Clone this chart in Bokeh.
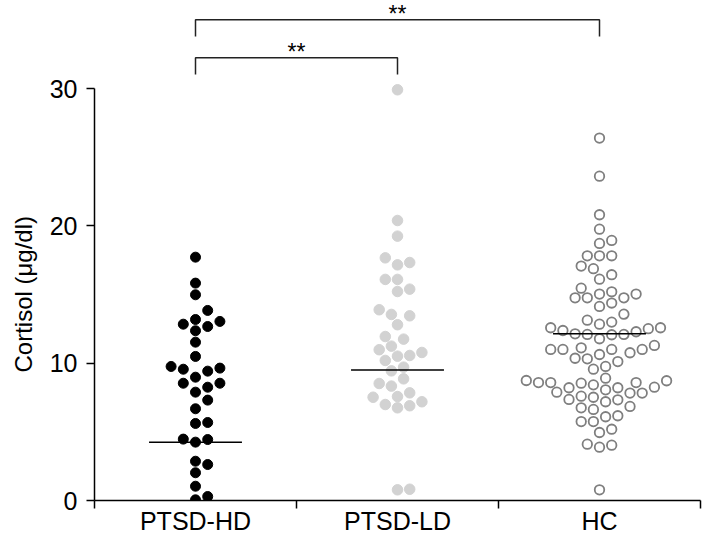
import numpy as np
from bokeh.plotting import figure
from bokeh.models import Range1d, FixedTicker, ColumnDataSource, Title
from bokeh.embed import file_html
from bokeh.resources import INLINE
from bokeh.core.properties import value

categories = ["PTSD-HD", "PTSD-LD", "HC"]

hd_values = [17.72, 15.83, 14.98, 13.84, 13.18, 13.04, 12.84, 12.67, 12.36, 11.53,
             10.49, 9.76, 9.64, 9.56, 9.42, 8.98, 8.54, 8.54, 8.25, 7.89,
             7.31, 6.68, 5.68, 5.61, 4.47, 4.44, 4.25, 2.86, 2.62, 2.02,
             1.04, 0.29, 0.05]
ld_values = [29.91, 20.39, 19.25, 17.67, 17.33, 17.16, 16.10, 16.10, 15.39, 15.22,
             13.89, 13.55, 13.45, 12.80, 11.94, 11.75, 11.24, 10.98, 10.78, 10.56,
             10.51, 10.20, 9.71, 9.44, 8.86, 8.52, 8.33, 7.84, 7.57, 7.52,
             7.19, 6.99, 6.90, 6.75, 0.82, 0.78]
hc_values = [26.39, 23.62, 20.81, 19.76, 18.94, 18.72, 17.82, 17.82, 17.82, 17.07,
             16.88, 16.44, 16.12, 15.46, 15.20, 15.03, 15.03, 14.76, 14.76, 14.76,
             14.38, 14.13, 13.57, 13.13, 12.99, 12.84, 12.58, 12.58, 12.51, 12.38,
             12.29, 12.14, 12.09, 12.09, 12.07, 11.78, 11.29, 11.12, 11.00, 11.00,
             11.00, 11.00, 10.76, 10.63, 10.36, 10.32, 10.12, 9.76, 9.56, 8.91,
             8.74, 8.72, 8.59, 8.59, 8.59, 8.54, 8.42, 8.25, 8.21, 8.21,
             8.06, 7.89, 7.82, 7.82, 7.60, 7.52, 7.36, 7.33, 7.19, 6.85,
             6.75, 6.63, 6.17, 6.10, 5.75, 5.75, 5.19, 4.95, 4.10, 4.03,
             3.88, 0.78]
center_lines = [4.25, 9.51, 12.14]
y_ticks = [0, 10, 20, 30]
y_title = "Cortisol (μg/dl)"

# significance brackets
bracket_pairs = [(0, 1), (0, 2)]
bracket_tops = [32.24, 35.0]
bracket_bottoms = [31.02, 33.78]
bracket_labels = ["**", "**"]

FONT = "Liberation Sans"
W, H = 703, 538
ML, MR, MB = 94, 3, 38
FRAME_W = W - ML - MR
FRAME_H = H - MB
PX_PER_Y = 500 / 36.41
Y_END = FRAME_H / PX_PER_Y
PX_PER_X = FRAME_W / 3.0


def swarm(vals, step=6.1, dmin=11.2):
    vals = np.asarray(vals, dtype=float)
    order = np.argsort(vals, kind="stable")
    placed = []
    offs = np.zeros(len(vals))
    cands = [0]
    for k in range(1, 40):
        cands += [k, -k]
    for i in order:
        y = vals[i] * PX_PER_Y
        for k in cands:
            x = k * step
            ok = True
            for px, py in placed:
                if (x - px) ** 2 + (y - py) ** 2 < dmin ** 2:
                    ok = False
                    break
            if ok:
                break
        placed.append((x, y))
        offs[i] = x
    return offs / PX_PER_X


p = figure(width=W, height=H, output_backend="svg", toolbar_location=None,
           x_range=Range1d(0, 3), y_range=Range1d(0, Y_END),
           min_border_left=ML, min_border_right=MR, min_border_top=0,
           min_border_bottom=MB)
p.outline_line_color = None
p.xgrid.visible = False
p.ygrid.visible = False
p.background_fill_color = "white"
p.border_fill_color = "white"

groups = [hd_values, ld_values, hc_values]
for gi, vals in enumerate(groups):
    xs = gi + 0.5 + swarm(vals)
    src = ColumnDataSource(dict(x=xs, y=vals))
    if gi == 0:
        p.scatter("x", "y", source=src, size=10, fill_color="black", line_color="black")
    elif gi == 1:
        p.scatter("x", "y", source=src, size=10.5, fill_color="#d2d2d2", line_color="#d2d2d2")
    else:
        p.scatter("x", "y", source=src, size=9.5, fill_color="white", line_color="#7f7f7f",
                  line_width=1.8)

# center lines
cx = [i + 0.5 for i in range(3)]
p.segment(x0=[c - 0.23 for c in cx], x1=[c + 0.23 for c in cx],
          y0=center_lines, y1=center_lines, line_color="black", line_width=1.5)

# brackets
bxs, bys, tx, ty = [], [], [], []
for (a, b), top, bot in zip(bracket_pairs, bracket_tops, bracket_bottoms):
    xa, xb = a + 0.5, b + 0.5
    bxs.append([xa, xa, xb, xb])
    bys.append([bot, top, top, bot])
    tx.append((xa + xb) / 2)
    ty.append(top + 1.38)
p.multi_line(bxs, bys, line_color="#222222", line_width=1.5)
p.text(x=tx, y=ty, text=bracket_labels, text_align="center", text_baseline="top",
       text_font=value(FONT), text_font_size="23px", text_color="black")

# x axis
xa = p.xaxis[0]
xa.ticker = FixedTicker(ticks=[0.5, 1.5, 2.5], minor_ticks=[0, 1, 2, 3])
xa.major_label_overrides = {0.5: categories[0], 1.5: categories[1], 2.5: categories[2]}
xa.bounds = (0, 3)
xa.major_tick_out = 0
xa.major_tick_in = 0
xa.minor_tick_out = 8
xa.minor_tick_in = 0
xa.minor_tick_line_width = 1.5
xa.minor_tick_line_color = "black"
xa.axis_line_width = 1.5
xa.axis_line_color = "black"
xa.major_label_standoff = -2
xa.major_label_text_font = FONT
xa.major_label_text_font_size = "25px"
xa.major_label_text_line_height = 1.0
xa.major_label_text_color = "black"

# y axis
ya = p.yaxis[0]
ya.ticker = FixedTicker(ticks=y_ticks, minor_ticks=[])
ya.bounds = (0, 30)
ya.major_tick_out = 8
ya.major_tick_in = 0
ya.major_tick_line_width = 1.5
ya.major_tick_line_color = "black"
ya.minor_tick_out = 0
ya.minor_tick_in = 0
ya.axis_line_width = 1.5
ya.axis_line_color = "black"
ya.major_label_standoff = 9
ya.major_label_text_font = FONT
ya.major_label_text_font_size = "25px"
ya.major_label_text_color = "black"

# y title in the left panel, placed along the 0-30 axis span
p.add_layout(Title(text=y_title, align="left", offset=128, standoff=16,
                   vertical_align="top",
                   text_font=FONT, text_font_size="24px", text_font_style="normal",
                   text_color="black"), "left")

open("out.html", "w").write(file_html(p, INLINE))
